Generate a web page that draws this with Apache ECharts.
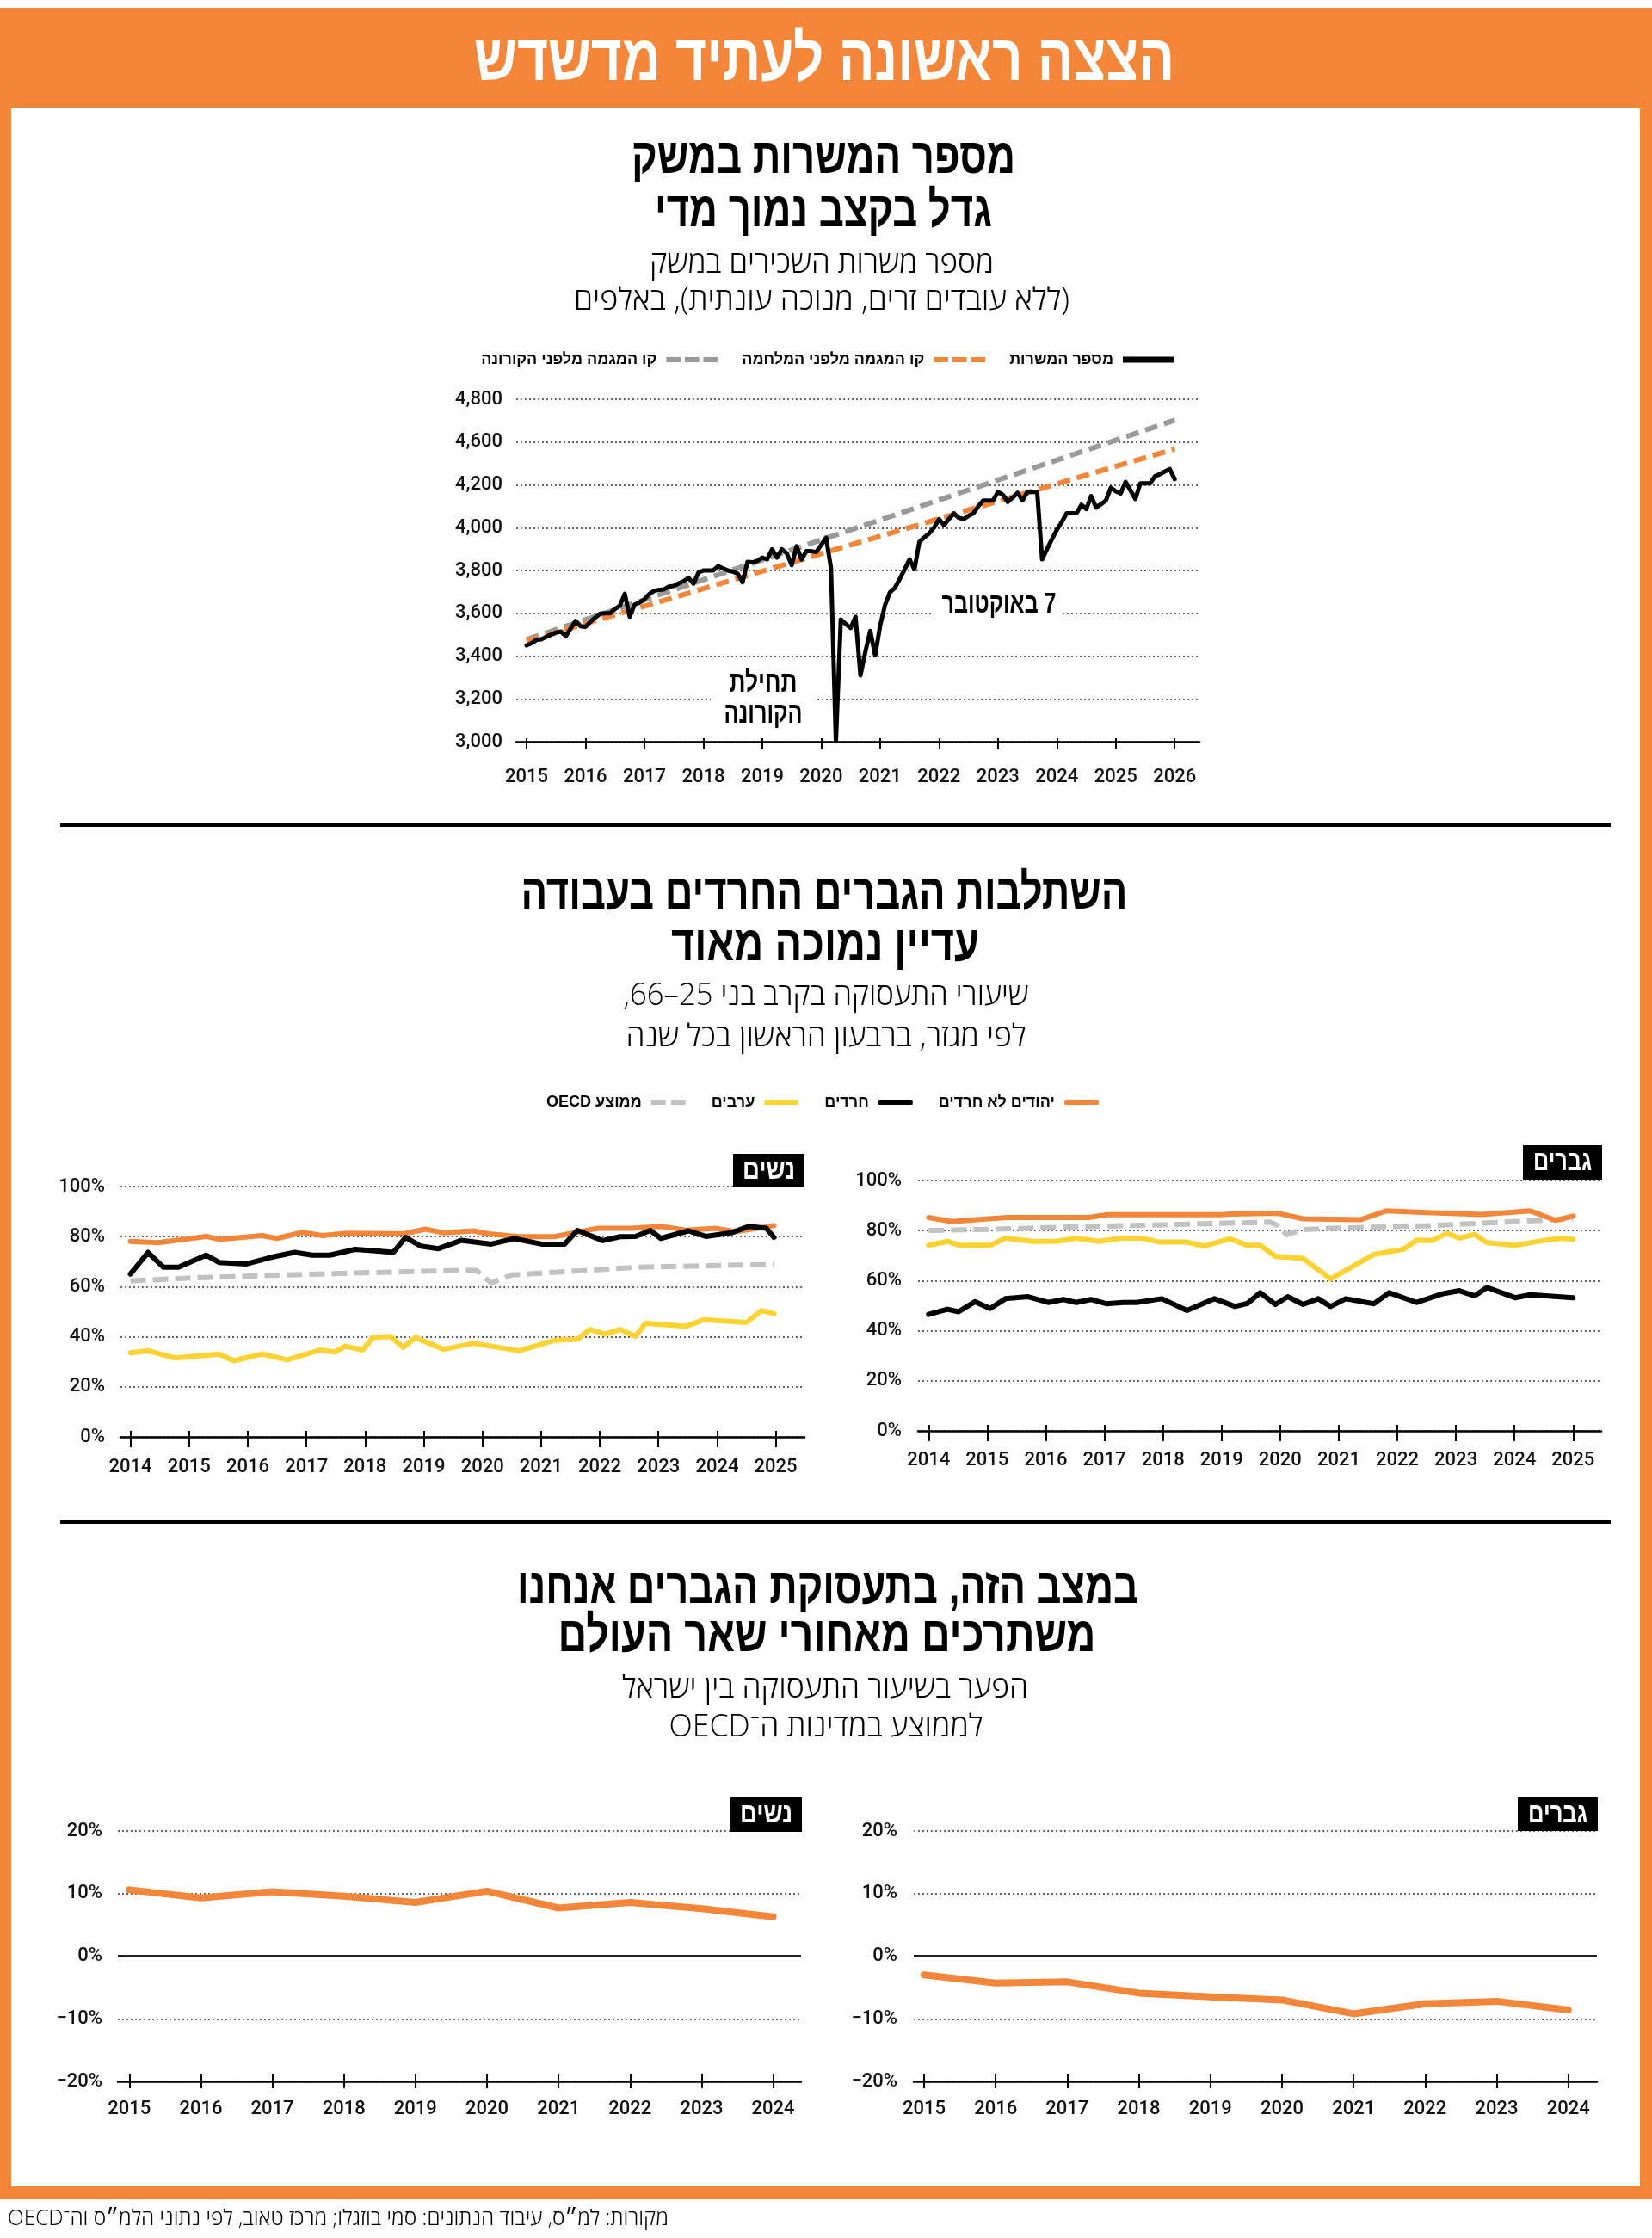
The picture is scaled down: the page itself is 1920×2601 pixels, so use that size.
<!DOCTYPE html>
<html lang="he" dir="rtl">
<head>
<meta charset="utf-8">
<title>הצצה ראשונה לעתיד מדשדש</title>
<script src="https://cdn.jsdelivr.net/npm/echarts@6/dist/echarts.min.js"></script>
<style>
  html, body { margin: 0; padding: 0; background: #fff; }
  #chart { width: 1920px; height: 2601px; }
</style>
</head>
<body>
<div id="chart"></div>
<script>
// ---------- נתונים ----------
// מספר המשרות במשק, חודשי, ינואר 2015 - ינואר 2026 (באלפים)
var jobsStartYear = 2015;
var jobs = [
  3450, 3460, 3475, 3478, 3490, 3500, 3510, 3515, 3493, 3530, 3564, 3540, // 2015
  3537, 3560, 3580, 3598, 3600, 3600, 3620, 3635, 3691, 3584, 3640, 3650, // 2016
  3665, 3690, 3705, 3710, 3712, 3725, 3728, 3740, 3750, 3765, 3738, 3790, // 2017
  3800, 3800, 3800, 3820, 3810, 3800, 3795, 3785, 3745, 3840, 3838, 3845, // 2018
  3860, 3852, 3899, 3860, 3899, 3880, 3825, 3913, 3852, 3890, 3890, 3886, // 2019
  3919, 3953, 3812, 3000, 3571, 3550, 3531, 3584, 3310, 3420, 3517, 3403, // 2020
  3540, 3638, 3698, 3718, 3760, 3805, 3852, 3805, 3933, 3955, 3973, 4000, // 2021
  4040, 4013, 4040, 4067, 4047, 4040, 4055, 4067, 4100, 4127, 4127, 4127, // 2022
  4167, 4154, 4120, 4140, 4163, 4127, 4167, 4167, 4167, 3852, 3900, 3946, // 2023
  3990, 4026, 4067, 4067, 4067, 4107, 4087, 4147, 4094, 4110, 4127, 4187, // 2024
  4170, 4160, 4214, 4174, 4134, 4207, 4207, 4207, 4241, 4250, 4262, 4274, // 2025
  4227                                                                    // 2026
];
// תוויות הציר כפי שהודפסו בגרפיקה המקורית
var jobTickLabels = ['3,000', '3,200', '3,400', '3,600', '3,800', '4,000', '4,200', '4,600', '4,800'];
var jobYears = [2015, 2016, 2017, 2018, 2019, 2020, 2021, 2022, 2023, 2024, 2025, 2026];
var trendYears = [2015, 2026];
var trendPreCovid = [3477, 4502];
var trendPreWar = [3470, 4368];

// שיעורי תעסוקה בני 25-66 (%), [שנה, ערך]
var rateYears = [2014, 2015, 2016, 2017, 2018, 2019, 2020, 2021, 2022, 2023, 2024, 2025];
var womenJews = [[2014.00,78.1],[2014.47,77.6],[2015.29,80.1],[2015.51,78.9],[2016.24,80.4],[2016.50,79.3],[2016.93,81.7],[2017.27,80.4],[2017.70,81.4],[2018.39,81.2],[2018.65,81.1],[2019.03,83.0],[2019.34,81.5],[2019.85,82.3],[2020.11,81.1],[2020.63,80.0],[2021.23,80.0],[2021.66,82.0],[2021.96,83.3],[2022.56,83.3],[2023.04,84.1],[2023.47,82.6],[2023.98,83.3],[2024.33,82.0],[2024.97,84.4]];
var womenHaredi = [[2014.00,65.1],[2014.30,73.7],[2014.56,67.8],[2014.82,67.8],[2015.29,72.6],[2015.51,69.7],[2015.98,69.1],[2016.41,71.8],[2016.80,73.7],[2017.10,72.6],[2017.40,72.6],[2017.83,74.9],[2018.13,74.4],[2018.48,73.7],[2018.69,79.7],[2018.95,76.2],[2019.25,75.2],[2019.64,78.5],[2020.15,77.0],[2020.54,79.2],[2021.01,77.0],[2021.40,77.0],[2021.62,82.5],[2022.05,78.4],[2022.35,80.0],[2022.61,80.1],[2022.86,82.5],[2023.04,79.3],[2023.51,82.3],[2023.81,80.1],[2024.24,81.5],[2024.54,84.1],[2024.84,83.3],[2024.97,79.7]];
var womenArab = [[2014.00,33.6],[2014.30,34.4],[2014.77,31.5],[2015.51,33.1],[2015.76,30.4],[2016.24,33.1],[2016.67,30.8],[2017.23,34.7],[2017.49,33.9],[2017.66,36.3],[2017.96,34.7],[2018.13,39.7],[2018.43,40.1],[2018.65,35.8],[2018.86,39.7],[2019.34,35.0],[2019.85,37.4],[2020.63,34.4],[2021.23,38.6],[2021.62,39.0],[2021.83,42.9],[2022.09,41.0],[2022.35,42.9],[2022.61,40.2],[2022.78,45.4],[2023.47,44.2],[2023.77,46.8],[2024.50,45.7],[2024.76,50.5],[2024.97,49.2]];
var womenOecd = [[2014.00,62.3],[2014.95,63.4],[2016.67,64.7],[2018.39,65.8],[2019.77,66.6],[2019.90,66.4],[2020.15,61.5],[2020.50,64.7],[2021.83,66.6],[2022.69,67.8],[2024.97,68.9]];

var menJews = [[2014.00,85.2],[2014.40,83.6],[2015.01,84.7],[2015.35,85.2],[2016.73,85.2],[2017.03,86.3],[2018.97,86.3],[2019.14,86.6],[2019.96,86.9],[2020.39,84.7],[2021.38,84.4],[2021.81,87.9],[2022.59,87.1],[2023.45,86.4],[2024.27,87.9],[2024.48,86.0],[2024.70,84.1],[2025.00,85.8]];
var menHaredi = [[2014.00,46.5],[2014.32,48.6],[2014.51,47.6],[2014.79,51.6],[2015.05,48.9],[2015.31,52.8],[2015.70,53.6],[2016.04,51.3],[2016.30,52.5],[2016.52,51.3],[2016.77,52.5],[2017.03,50.8],[2017.33,51.3],[2017.55,51.3],[2017.98,52.8],[2018.41,48.1],[2018.88,52.8],[2019.23,49.7],[2019.44,50.9],[2019.66,55.2],[2019.92,50.5],[2020.13,53.6],[2020.39,50.5],[2020.65,52.8],[2020.86,49.7],[2021.12,52.8],[2021.60,50.8],[2021.86,55.2],[2022.33,51.3],[2022.76,54.7],[2023.06,56.0],[2023.32,53.9],[2023.53,57.3],[2024.01,53.2],[2024.27,54.4],[2025.00,53.2]];
var menArab = [[2014.00,74.1],[2014.32,75.7],[2014.53,74.1],[2015.05,74.1],[2015.31,77.0],[2015.78,75.7],[2016.17,75.7],[2016.52,77.0],[2016.90,75.7],[2017.29,77.0],[2017.63,77.0],[2017.94,75.4],[2018.41,75.4],[2018.71,73.8],[2019.14,76.8],[2019.44,74.1],[2019.66,74.1],[2019.92,69.7],[2020.39,68.9],[2020.86,60.7],[2021.60,70.5],[2022.11,72.6],[2022.33,76.2],[2022.59,76.0],[2022.85,78.9],[2023.06,77.0],[2023.32,78.5],[2023.53,75.2],[2024.01,74.1],[2024.48,76.0],[2024.83,77.0],[2025.00,76.5]];
var menOecd = [[2014.00,80.1],[2014.84,80.4],[2016.56,81.5],[2018.28,82.5],[2019.83,83.4],[2019.96,82.0],[2020.11,78.4],[2020.39,80.4],[2020.86,80.9],[2022.59,82.0],[2025.00,84.7]];

// הפער בין ישראל לממוצע ה-OECD (נקודות אחוז)
var gapYears = [2015, 2016, 2017, 2018, 2019, 2020, 2021, 2022, 2023, 2024];
var gapWomen = [10.6, 9.3, 10.3, 9.6, 8.6, 10.4, 7.7, 8.6, 7.6, 6.3];
var gapMen = [-3.0, -4.3, -4.1, -5.9, -6.5, -7.0, -9.2, -7.6, -7.2, -8.6];

// ---------- עיצוב ----------
var ORANGE = '#F4863A';
var YELLOW = '#FDD233';
var HEB = '"Liberation Sans", "DejaVu Sans", sans-serif';
var HEB_LIGHT = '"Open Sans", "Liberation Sans", "DejaVu Sans", sans-serif';
var NUM = 'Roboto, "Liberation Sans", sans-serif';
var DASH3 = 'path://M0,0h17v6h-17z M22,0h17v6h-17z M44,0h17v6h-17z';
var DASH2 = 'path://M0,0h17v6h-17z M23,0h17v6h-17z';

var measureCtx = document.createElement('canvas').getContext('2d');
// טקסט מכווץ לרוחב נתון (הגופן המקורי צר)
function fitText(text, o) {
  var font = o.weight + ' ' + o.size + 'px ' + (o.family || HEB);
  measureCtx.font = font;
  var w = measureCtx.measureText(text).width;
  var align = o.align || 'center';
  return {
    type: 'text', x: o.x, y: o.y, z: o.z || 5, scaleX: o.width / w,
    style: { text: text, font: font, fill: o.color || '#000',
             textAlign: align, align: align,
             textVerticalAlign: 'middle', verticalAlign: 'middle' }
  };
}

function pairs(xs, ys) {
  return xs.map(function (x, i) { return [x, ys[i]]; });
}

var gridLine = { show: true, lineStyle: { color: '#333', width: 1.5, type: [2, 3] } };
var numLabel = { color: '#111', fontFamily: NUM, fontSize: 22, fontWeight: 500 };

function xAxes(gi, min, max, ticks, margin, up, down) {
  return [{
    type: 'value', gridIndex: gi, min: min, max: max, position: 'bottom',
    axisLine: { show: true, onZero: false, lineStyle: { color: '#000', width: 2.5 } },
    axisTick: { show: true, customValues: ticks, length: down, lineStyle: { color: '#000', width: 2 } },
    axisLabel: Object.assign({ show: true, customValues: ticks, margin: margin,
      formatter: function (v) { return String(Math.round(v)); } }, numLabel),
    splitLine: { show: false }
  }, {
    type: 'value', gridIndex: gi, min: min, max: max, position: 'bottom',
    axisLine: { show: false, onZero: false },
    axisTick: { show: true, inside: true, customValues: ticks, length: up, lineStyle: { color: '#000', width: 2 } },
    axisLabel: { show: false }, splitLine: { show: false }
  }];
}

function yAxis(gi, min, max, interval, margin, formatter) {
  return {
    type: 'value', gridIndex: gi, min: min, max: max, interval: interval,
    axisLine: { show: false }, axisTick: { show: false },
    axisLabel: Object.assign({ margin: margin, formatter: formatter }, numLabel),
    splitLine: gridLine
  };
}

function pct(v) {
  return v < 0 ? '\u200E\u2212' + (-v) + '%' : v + '%';
}

function line(name, xi, yi, data, color, width, dash) {
  return {
    type: 'line', name: name, xAxisIndex: xi, yAxisIndex: yi, data: data,
    symbol: 'none', silent: true,
    lineStyle: { color: color, width: width, type: dash || 'solid', join: 'round', cap: dash ? 'butt' : 'round' },
    itemStyle: { color: color }
  };
}

// ---------- רקע, כותרות ותוויות ----------
var graphics = [
  { type: 'rect', z: -10, shape: { x: 0, y: 9, width: 1920, height: 2547 }, style: { fill: ORANGE } },
  { type: 'rect', z: -9, shape: { x: 13, y: 126, width: 1893, height: 2415 }, style: { fill: '#fff' } },
  { type: 'rect', z: 5, shape: { x: 70, y: 957, width: 1802, height: 4 }, style: { fill: '#000' } },
  { type: 'rect', z: 5, shape: { x: 70, y: 1767, width: 1802, height: 4 }, style: { fill: '#000' } },

  fitText('הצצה ראשונה לעתיד מדשדש', { x: 958, y: 72, size: 76, weight: 'bold', width: 814, color: '#fff' }),

  fitText('מספר המשרות במשק', { x: 957, y: 185, size: 58, weight: 'bold', width: 446 }),
  fitText('גדל בקצב נמוך מדי', { x: 957, y: 247, size: 58, weight: 'bold', width: 392 }),
  fitText('מספר משרות השכירים במשק', { x: 955, y: 307, size: 36, weight: 300, width: 400, family: HEB_LIGHT }),
  fitText('(ללא עובדים זרים, מנוכה עונתית), באלפים', { x: 955, y: 350, size: 36, weight: 300, width: 576, family: HEB_LIGHT }),

  fitText('השתלבות הגברים החרדים בעבודה', { x: 958, y: 1040, size: 58, weight: 'bold', width: 705 }),
  fitText('עדיין נמוכה מאוד', { x: 959, y: 1100, size: 58, weight: 'bold', width: 358 }),
  fitText('שיעורי התעסוקה בקרב בני 25–66,', { x: 960, y: 1158, size: 36, weight: 300, width: 471, family: HEB_LIGHT }),
  fitText('לפי מגזר, ברבעון הראשון בכל שנה', { x: 960, y: 1206, size: 36, weight: 300, width: 465, family: HEB_LIGHT }),

  fitText('במצב הזה, בתעסוקת הגברים אנחנו', { x: 962, y: 1847, size: 58, weight: 'bold', width: 722 }),
  fitText('משתרכים מאחורי שאר העולם', { x: 961, y: 1903, size: 58, weight: 'bold', width: 625 }),
  fitText('הפער בשיעור התעסוקה בין ישראל', { x: 959, y: 1963, size: 36, weight: 300, width: 472, family: HEB_LIGHT }),
  fitText('לממוצע במדינות ה־OECD', { x: 960, y: 2008, size: 36, weight: 300, width: 365, family: HEB_LIGHT }),

  fitText('מקורות: למ״ס, עיבוד הנתונים: סמי בוזגלו; מרכז טאוב, לפי נתוני הלמ״ס וה־OECD',
    { x: 777, y: 2579, size: 25, weight: 300, width: 768, align: 'right', family: HEB_LIGHT }),

  // הערות בגרף העליון
  { type: 'rect', z: 1, shape: { x: 826, y: 772, width: 121, height: 78 }, style: { fill: '#fff' } },
  fitText('תחילת', { x: 887, y: 795, size: 34, weight: 'bold', width: 79 }),
  fitText('הקורונה', { x: 887, y: 831, size: 34, weight: 'bold', width: 91 }),
  { type: 'rect', z: 1, shape: { x: 1085, y: 688, width: 151, height: 30 }, style: { fill: '#fff' } },
  fitText('7 באוקטובר', { x: 1161, y: 703, size: 33, weight: 'bold', width: 133 })
];

// תיבות "נשים" / "גברים"
[[852, 1341, 83, 39, 'נשים', 61], [1770, 1331, 92, 40, 'גברים', 68],
 [849, 2089, 83, 40, 'נשים', 61], [1764, 2089, 93, 39, 'גברים', 69]].forEach(function (b) {
  graphics.push({ type: 'rect', z: 5, shape: { x: b[0], y: b[1], width: b[2], height: b[3] }, style: { fill: '#000' } });
  graphics.push(fitText(b[4], { x: b[0] + b[2] / 2, y: b[1] + b[3] / 2, size: 33, weight: 'bold', width: b[5], color: '#fff', z: 6 }));
});

// ---------- צירים ----------
var grids = [
  { left: 600, top: 464, width: 794, height: 398 },   // משרות
  { left: 140, top: 1379, width: 795, height: 291 },  // נשים
  { left: 1067, top: 1372, width: 794, height: 291 }, // גברים
  { left: 137, top: 2128, width: 794, height: 291 },  // פער נשים
  { left: 1062, top: 2128, width: 794, height: 291 }  // פער גברים
].map(function (g) { g.containLabel = false; g.outerBoundsMode = 'none'; return g; });

var xAxisList = [].concat(
  xAxes(0, 2014.825, 2026.42, jobYears, 30, 4, 9),
  xAxes(1, 2013.83, 2025.49, rateYears, 24, 7, 12),
  xAxes(2, 2013.82, 2025.48, rateYears, 23, 7, 12),
  xAxes(3, 2014.84, 2024.39, gapYears, 21, 9, 8),
  xAxes(4, 2014.856, 2024.40, gapYears, 21, 9, 8)
);

var yAxisList = [
  yAxis(0, 3000, 4600, 200, 16, function (v) { return jobTickLabels[Math.round((v - 3000) / 200)]; }),
  yAxis(1, 0, 100, 20, 18, pct),
  yAxis(2, 0, 100, 20, 19, pct),
  yAxis(3, -20, 20, 10, 18, pct),
  yAxis(4, -20, 20, 10, 19, pct)
];

// ---------- סדרות ----------
var jobData = jobs.map(function (v, i) { return [jobsStartYear + i / 12, v]; });

var gapZero = {
  silent: true, symbol: ['none', 'none'], label: { show: false },
  lineStyle: { color: '#222', width: 3, type: 'solid' }, data: [{ yAxis: 0 }]
};

var series = [
  line('קו המגמה מלפני הקורונה', 0, 0, pairs(trendYears, trendPreCovid), '#9A9A9A', 6, [15, 8]),
  line('קו המגמה מלפני המלחמה', 0, 0, pairs(trendYears, trendPreWar), '#F4863A', 6, [15, 8]),
  line('מספר המשרות', 0, 0, jobData, '#000', 5),

  line('ממוצע OECD', 2, 1, womenOecd, '#C2C2C2', 6, [18, 8]),
  line('ערבים', 2, 1, womenArab, YELLOW, 6),
  line('יהודים לא חרדים', 2, 1, womenJews, '#F4863A', 6),
  line('חרדים', 2, 1, womenHaredi, '#000', 6),

  line('ממוצע OECD', 4, 2, menOecd, '#C2C2C2', 6, [18, 8]),
  line('ערבים', 4, 2, menArab, YELLOW, 6),
  line('יהודים לא חרדים', 4, 2, menJews, '#F4863A', 6),
  line('חרדים', 4, 2, menHaredi, '#000', 6),

  Object.assign(line('פער נשים', 6, 3, pairs(gapYears, gapWomen), '#F4863A', 8), { markLine: gapZero }),
  Object.assign(line('פער גברים', 8, 4, pairs(gapYears, gapMen), '#F4863A', 8), { markLine: gapZero })
];

var legendText = { fontFamily: HEB, fontWeight: 'bold', fontSize: 18, color: '#000', padding: [0, 6, 0, 0] };

var option = {
  backgroundColor: '#fff',
  animation: false,
  graphic: { elements: graphics },
  legend: [{
    data: [{ name: 'קו המגמה מלפני הקורונה', icon: DASH3 }, { name: 'קו המגמה מלפני המלחמה', icon: DASH3 }, { name: 'מספר המשרות', icon: 'rect' }],
    right: 550, top: 404, align: 'right', itemWidth: 60, itemHeight: 7, itemGap: 28,
    selectedMode: false, textStyle: legendText
  }, {
    data: [{ name: 'ממוצע OECD', icon: DASH2 }, { name: 'ערבים', icon: 'roundRect' }, { name: 'חרדים', icon: 'roundRect' }, { name: 'יהודים לא חרדים', icon: 'roundRect' }],
    right: 638, top: 1267, align: 'right', itemWidth: 40, itemHeight: 6, itemGap: 30,
    selectedMode: false, textStyle: legendText
  }],
  grid: grids,
  xAxis: xAxisList,
  yAxis: yAxisList,
  series: series
};

var chart = echarts.init(document.getElementById('chart'));
chart.setOption(option);
</script>
</body>
</html>
